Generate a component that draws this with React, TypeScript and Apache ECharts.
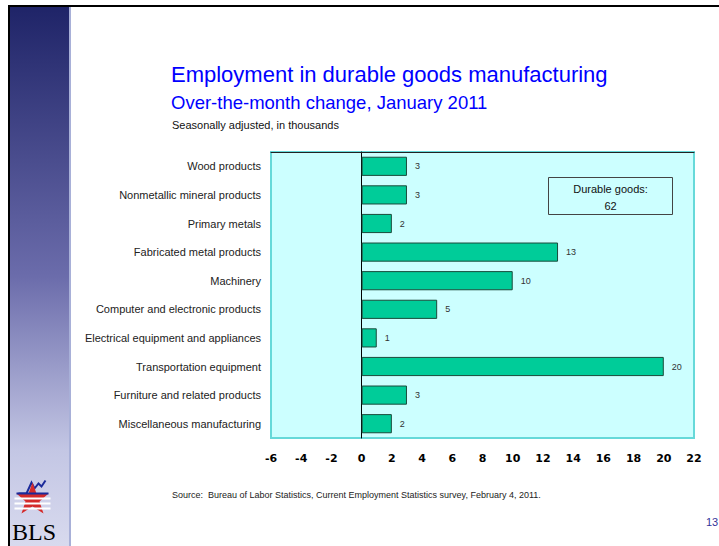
import React, { useEffect, useRef } from "react";
import * as echarts from "echarts";

const categories = [
  "Wood products",
  "Nonmetallic mineral products",
  "Primary metals",
  "Fabricated metal products",
  "Machinery",
  "Computer and electronic products",
  "Electrical equipment and appliances",
  "Transportation equipment",
  "Furniture and related products",
  "Miscellaneous manufacturing",
];
const values = [3, 3, 2, 13, 10, 5, 1, 20, 3, 2];
const axisMin = -6;
const axisMax = 22;
const axisStep = 2;
const title = "Employment in durable goods manufacturing";
const subtitle = "Over-the-month change, January 2011";
const note = "Seasonally adjusted, in thousands";
const boxTitle = "Durable goods:";
const boxValue = "62";
const source =
  "Source:  Bureau of Labor Statistics, Current Employment Statistics survey, February 4, 2011.";
const pageNo = "13";

export default function App() {
  const ref = useRef<HTMLDivElement>(null);
  useEffect(() => {
    if (!ref.current) return;
    const chart = echarts.init(ref.current, null, { renderer: "svg" });
    const font = "'Liberation Sans', Arial, sans-serif";
    chart.setOption({
      animation: false,
      backgroundColor: "#ffffff",
      textStyle: { fontFamily: font },
      grid: {
        left: 271,
        right: 25,
        top: 152,
        bottom: 108,
        show: true,
        backgroundColor: "#ccffff",
        borderColor: "#66d9d9",
        borderWidth: 2,
        containLabel: false,
      },
      xAxis: [
        {
          type: "value",
          min: axisMin,
          max: axisMax,
          interval: axisStep,
          axisLine: { show: false },
          axisTick: { show: false },
          splitLine: { show: false },
          axisLabel: {
            fontSize: 11,
            fontWeight: "bold",
            color: "#000",
            margin: 15,
            fontFamily: "'DejaVu Sans', sans-serif",
          },
        },
        {
          type: "value",
          position: "top",
          min: axisMin,
          max: axisMax,
          interval: axisStep,
          axisLine: { show: true, lineStyle: { color: "#222", width: 1 } },
          axisTick: { show: false },
          splitLine: { show: false },
          axisLabel: { show: false },
        },
      ],
      yAxis: {
        type: "category",
        data: categories,
        inverse: true,
        axisLine: { show: true, onZero: true, lineStyle: { color: "#000", width: 1 } },
        axisTick: { show: false },
        splitLine: { show: false },
        axisLabel: {
          fontSize: 11,
          color: "#222",
          margin: 10,
          fontFamily: font,
        },
      },
      series: [
        {
          type: "bar",
          data: values,
          barCategoryGap: "33%",
          itemStyle: { color: "#00cc99", borderColor: "#1a4a3a", borderWidth: 1 },
          label: {
            show: true,
            position: "right",
            distance: 8,
            fontSize: 9,
            color: "#333",
            fontFamily: font,
          },
        },
      ],
      graphic: [
        {
          type: "rect",
          left: 10,
          top: 7,
          shape: { width: 60, height: 539 },
          style: {
            fill: new echarts.graphic.LinearGradient(0, 0, 0, 1, [
              { offset: 0, color: "#1f2468" },
              { offset: 0.5, color: "#6b6cab" },
              { offset: 0.82, color: "#c3c6e4" },
              { offset: 1, color: "#d8daee" },
            ]),
          },
          silent: true,
        },
        {
          type: "rect",
          left: 69,
          top: 7,
          shape: { width: 2, height: 539 },
          style: { fill: "#a8b0d8" },
          silent: true,
        },
        {
          type: "rect",
          left: 8,
          top: 5,
          shape: { width: 711, height: 2 },
          style: { fill: "#000" },
          silent: true,
        },
        {
          type: "rect",
          left: 8,
          top: 5,
          shape: { width: 2, height: 541 },
          style: { fill: "#000" },
          silent: true,
        },
        {
          type: "text",
          left: 171,
          top: 63,
          style: { text: title, fontSize: 22, fill: "#0000ff", fontFamily: font },
        },
        {
          type: "text",
          left: 171,
          top: 93,
          style: { text: subtitle, fontSize: 18.5, fill: "#0000ff", fontFamily: font },
        },
        {
          type: "text",
          left: 172,
          top: 119,
          style: { text: note, fontSize: 11, fill: "#111", fontFamily: font },
        },
        {
          type: "group",
          left: 548,
          top: 177,
          children: [
            {
              type: "rect",
              shape: { x: 0, y: 0, width: 124, height: 37 },
              style: { fill: "#ccffff", stroke: "#444", lineWidth: 1 },
            },
            {
              type: "text",
              x: 62,
              y: 11,
              style: {
                text: boxTitle,
                fontSize: 11,
                fill: "#111",
                align: "center",
                verticalAlign: "middle",
                fontFamily: font,
              },
            },
            {
              type: "text",
              x: 62,
              y: 28,
              style: {
                text: boxValue,
                fontSize: 11,
                fill: "#111",
                align: "center",
                verticalAlign: "middle",
                fontFamily: font,
              },
            },
          ],
        },
        {
          type: "text",
          left: 172,
          top: 490,
          style: { text: source, fontSize: 9, fill: "#222", fontFamily: font },
        },
        {
          type: "text",
          left: 706,
          top: 516,
          style: { text: pageNo, fontSize: 11, fill: "#333399", fontFamily: font },
        },
        {
          type: "group",
          left: 14,
          top: 478,
          children: [
            {
              type: "polyline",
              shape: {
                points: [
                  [6, 19],
                  [14, 19],
                  [19, 8],
                  [22, 14],
                  [26, 9],
                  [29, 12],
                  [33, 6],
                ],
              },
              style: { stroke: "#1a2a9a", lineWidth: 2, fill: "none" },
            },
            {
              type: "polygon",
              shape: {
                points: [
                  [20, 8],
                  [24, 19],
                  [36, 19],
                  [27, 27],
                  [31, 39],
                  [20, 32],
                  [9, 39],
                  [13, 27],
                  [4, 19],
                  [16, 19],
                ],
              },
              style: { fill: "#d42a2a" },
            },
            {
              type: "polyline",
              shape: { points: [[4, 19], [36, 19]] },
              style: { stroke: "#1a2a9a", lineWidth: 2 },
            },
            { type: "rect", shape: { x: 2, y: 23, width: 36, height: 2 }, style: { fill: "#ffffff" } },
            { type: "rect", shape: { x: 2, y: 28, width: 36, height: 2 }, style: { fill: "#ffffff" } },
            { type: "rect", shape: { x: 2, y: 33, width: 36, height: 2 }, style: { fill: "#ffffff" } },
          ],
        },
        {
          type: "text",
          left: 12,
          top: 520,
          style: {
            text: "BLS",
            fontSize: 24,
            fill: "#000",
            fontFamily: "'Liberation Serif', 'DejaVu Serif', serif",
          },
        },
      ],
    });
    return () => chart.dispose();
  }, []);
  return <div ref={ref} style={{ width: 719, height: 546, position: "absolute", left: 0, top: 0 }} />;
}
